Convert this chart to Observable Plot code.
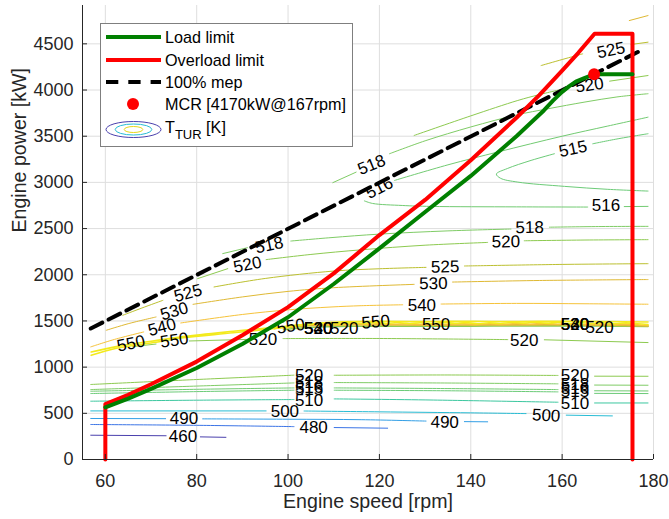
<!DOCTYPE html>
<html><head><meta charset="utf-8">
<script src="https://cdn.jsdelivr.net/npm/d3@7"></script>
<script src="https://cdn.jsdelivr.net/npm/@observablehq/plot@0.6"></script>
<style>body{margin:0;background:#fff;} svg{display:block;}</style>
</head><body><div id="chart"></div>
<script>
const FONT = "'Liberation Sans', Arial, Helvetica, sans-serif";
const xTicks = [60, 80, 100, 120, 140, 160, 180];
const yTicks = [0, 500, 1000, 1500, 2000, 2500, 3000, 3500, 4000, 4500];

// limits [rpm, kW]
const loadLimit = [[60,565],[65,660],[70,765],[80,990],[90,1250],[100,1540],[110,1900],[120,2285],[130,2680],[140,3070],[150,3500],[156,3779],[158,3885],[160,3980],[161.5,4040],[163,4090],[165,4132],[167,4170],[175.4,4170]];
const overloadLimit = [[60,0],[60,600],[65,700],[70,815],[80,1060],[90,1345],[100,1650],[110,2015],[120,2430],[130,2810],[140,3240],[150,3700],[155,3945],[160,4210],[163.5,4400],[167.1,4610],[175.4,4610],[175.4,0]];
const mep100 = [[56.8,1418],[177.7,4440]];
const mcr = [[167,4170]];

// contour levels (K) and colours
const levelDomain = [460, 480, 490, 500, 510, 515, 518, 520, 525, 530, 540, 550];
const levelColors = ["#4a40ad","#3b74e6","#339fe6","#27bcd4","#3cc79f","#6ccb78","#7fcc66","#8dca50","#bcc030","#dfb934","#f6c33a","#f3ea1c"];

const N = [NaN, NaN];
const c460 = [[56.8,263],[73.3,257],N,[80.8,245],[86.4,240]];
const c480 = [[56.8,379],[80,370],[101.3,356],N,[110.1,346],[121.8,339]];
const c490 = [[56.8,444],[73.2,442],N,[81.3,440],[100,436],[116,431],[130.2,416],N,[138.6,410],[143.7,408]];
const c500 = [[56.8,526],[95.2,526],N,[103.5,525],[120,516],[140,505],[152.1,497],N,[160.9,480],[171,472]];
const c510 = [[56.8,631],[80,642],[101.3,649],N,[110.1,656],[130,645],[159.1,620],N,[167.1,612],[178.8,612]];
const c515L = [[56.8,714],[80,735],[101.3,750],N,[110.1,750],[135,744],[159.1,732],N,[167.1,716],[178.8,714]];
const c516L = [[56.8,739],[80,760],[101.3,775],N,[110.1,775],[135,768],[159.1,757],N,[167.1,744],[178.8,742]];
const c518L = [[56.8,757],[80,795],[101.3,829],N,[110.1,833],[135,828],[159.1,819],N,[167.1,806],[178.8,804]];
const c520L = [[56.8,812],[80,866],[101.3,913],N,[110.1,912],[135,915],[159.1,910],N,[167.1,902],[178.8,901]];
const c520m = [[66,1222],[71.1,1250],N,[78.4,1283],[90.8,1300],N,[98.9,1309],[120,1310],[148.1,1298],N,[156.1,1296],[178.8,1266]];
const b550a = [[56.9,1164],[62.4,1222],[70,1280],[77,1330],[88,1388],[99,1440],[105,1470],[112,1490],[120,1496],[130,1494],[140,1496],[150,1493],[160,1497],[170,1494],[178.8,1488]];
const b550b = [[56.9,1128],[62.4,1205],[70,1262],[77,1318],[88,1372],[99,1430],[103,1455],[106,1470],[109,1478],[111.5,1470],[114,1482],[116.5,1473],[119,1485],[121.5,1474],[124,1483],[126.5,1472],[129,1481],[131.5,1473],[134,1484],[136.5,1474],[139,1482],[141.5,1471],[144,1480],[146.5,1473],[149,1484],[151.5,1476],[154,1486],[156.5,1476],[159,1483],[161.5,1474],[164,1482],[166.5,1472],[169,1480],[171.5,1471],[174,1479],[176.5,1470],[178.8,1462]];
const b540 = [[97,1415],[100,1440],[104,1458],[108,1466],[111,1460],[114,1470],[117,1462],[120,1472],[123,1463],[126,1471],[129,1461],[132,1470],[135,1462],[138,1471],[141,1460],[144,1469],[147,1462],[150,1472],[153,1464],[156,1473],[159,1463],[162,1470],[165,1461],[168,1468],[171,1459],[174,1466],[176.5,1457],[178.8,1450]];
const b530 = [[99,1420],[105,1450],[115,1458],[130,1455],[145,1457],[160,1458],[170,1454],[178.8,1446]];
const b520 = [[99,1405],[105,1432],[115,1443],[130,1442],[145,1445],[160,1447],[170,1444],[178.8,1440]];
const c540 = [[56.8,1219],[62,1300],[68.4,1381],N,[76.5,1478],[90,1570],[100,1620],[109.4,1651],[116,1665],[125.1,1675],N,[133.5,1683],[150,1690],[165,1686],[178.8,1681]];
const c530 = [[60.2,1399],[65,1470],[71.1,1543],N,[79.2,1680],[90,1760],[100,1820],[110,1860],[127.6,1896],N,[136,1921],[155,1938],[178.8,1948]];
const c525 = [[63.8,1561],[68,1640],[72.6,1723],N,[83.8,1868],[95,1960],[110,2040],[120,2065],[130.2,2080],N,[138.6,2095],[160,2112],[178.8,2120]];
const c520u = [[80.2,1958],[86.8,2066],N,[95.2,2164],[105,2220],[116,2270],[130,2320],[143.7,2350],N,[151.7,2368],[165,2376],[178.8,2380]];
const c518m = [[85.7,2229],[91.1,2293],N,[100.6,2365],[109.4,2402],[120,2440],[135,2475],[148.8,2495],N,[157.2,2515],[168,2522],[178.8,2524]];
const c518u = [[109.8,2997],[114.9,3111],N,[122.2,3310],[130,3450],[140,3600],[150,3730],[156.9,3797],[165,3870],[172,3925],[178.8,3960]];
const c516 = [[178.8,3706],[170,3610],[160,3500],[146,3330],[135,3190],[123.3,3021],N,[116.7,2800],[118.5,2772],[125,2750],[131.3,2740],[150,2735],[165.6,2733],N,[173.6,2738],[178.8,2740]];
const c515 = [[178.8,3527],[172,3470],[166.7,3418],N,[158.3,3310],[153.2,3238],[148,3150],[145.6,3090],[146.5,3045],[150.3,3003],[160.5,2957],[170,2925],[178.8,2906]];
const c520t = [[127.6,3508],[140,3720],[150.3,3887],[155,3950],[161,4020],N,[170.4,4096],[178.8,4157]];
const c525t = [[155.4,4265],[160,4330],[164.5,4392],N,[175.1,4493],[178.8,4518]];
const c530t = [[174.7,4752],[178.8,4806]];

const contourSets = [
  [460, c460], [480, c480], [490, c490], [500, c500], [510, c510],
  [515, c515L], [516, c516L], [518, c518L], [520, c520L], [520, c520m],
  [520, b520], [530, b530], [540, b540], [550, b550a], [550, b550b],
  [540, c540], [530, c530], [525, c525], [520, c520u], [518, c518m],
  [518, c518u], [516, c516], [515, c515], [520, c520t], [525, c525t], [530, c530t]
];
const bandIds = new Set([10, 11, 12, 13, 14]);

// contour labels: [rpm, kW, text, rotation]
const contourLabels = [
  [77.0,246,"460",0],[105.6,345,"480",0],[77.2,438,"490",0],[134.3,404,"490",1],
  [99.3,521,"500",0],[156.5,477,"500",3],[104.6,641,"510",0],[162.8,606,"510",0],
  [104.6,752,"515",0],[104.6,782,"516",0],[104.6,828,"518",0],[104.6,904,"520",0],
  [162.8,740,"515",0],[162.8,770,"516",0],[162.8,812,"518",0],[162.8,905,"520",0],
  [94.5,1298,"520",0],[151.7,1290,"520",0],
  [65.6,1255,"550",-12],[75.1,1290,"550",-8],
  [100.6,1442,"550",-8],[106.6,1417,"540",0],[106.6,1417,"530",0],[106.6,1417,"520",0],[112.3,1417,"520",0],
  [119.2,1489,"550",-5],[132.4,1462,"550",0],
  [162.8,1464,"540",0],[162.8,1464,"530",0],[162.8,1464,"520",0],[168.2,1430,"520",0],
  [72.4,1432,"540",-15],[129.3,1672,"540",0],
  [75.1,1605,"530",-16],[131.8,1904,"530",-1],
  [78.1,1800,"525",-15],[134.4,2084,"525",-1],
  [91.1,2108,"520",-12],[147.7,2356,"520",-1],
  [95.9,2320,"518",-12],[152.9,2511,"518",-1],
  [118.3,3190,"518",-22],[120.0,2940,"516",-27],[169.6,2748,"516",0],
  [162.4,3362,"515",-12],[166.0,4052,"520",-8],[170.7,4430,"525",-12]
];

const contourRows = contourSets.flatMap(([level, pts], i) =>
  pts.map(([rpm, kW]) => ({rpm, kW, level, id: i})));
const thinRows = contourRows.filter(d => !bandIds.has(d.id));
const bandRows = contourRows.filter(d => bandIds.has(d.id));
const labelRows = contourLabels.map(([rpm, kW, text, rot]) => ({rpm, kW, text, rot}));

const plot = Plot.plot({
  width: 669, height: 519,
  marginLeft: 82, marginRight: 16, marginTop: 5, marginBottom: 60,
  style: {fontFamily: FONT, fontSize: "18px", background: "#fff", overflow: "visible"},
  x: {domain: [55, 180]},
  y: {domain: [0, 4915]},
  color: {type: "linear", domain: levelDomain, range: levelColors},
  marks: [
    Plot.gridX(xTicks, {stroke: "#dedede", strokeOpacity: 1}),
    Plot.gridY(yTicks, {stroke: "#dedede", strokeOpacity: 1}),
    Plot.line(thinRows, {x: "rpm", y: "kW", z: "id", stroke: "level", strokeWidth: 1, curve: "catmull-rom"}),
    Plot.line(bandRows, {x: "rpm", y: "kW", z: "id", stroke: "level", strokeWidth: 1.6, curve: "catmull-rom"}),
    Plot.text(labelRows, {x: "rpm", y: "kW", text: "text", rotate: "rot", fontSize: 17, fill: "#000"}),
    Plot.line(mep100, {stroke: "#000", strokeWidth: 4, strokeDasharray: "13,7"}),
    Plot.line(overloadLimit, {stroke: "#ff0000", strokeWidth: 4}),
    Plot.line(loadLimit, {stroke: "#008000", strokeWidth: 4}),
    Plot.dot(mcr, {r: 6, fill: "#ff0000", stroke: "none"}),
    Plot.ruleX([55], {stroke: "#262626"}),
    Plot.ruleY([0], {stroke: "#262626"}),
    Plot.tickX(xTicks, {x: d => d, insetTop: 449, stroke: "#262626"}),
    Plot.tickY(yTicks, {y: d => d, insetRight: 566, stroke: "#262626"}),
    Plot.axisX(xTicks, {tickSize: 0, tickPadding: 15, fontSize: 18, fill: "#262626", label: null, tickFormat: d => String(d)}),
    Plot.axisY(yTicks, {tickSize: 0, tickPadding: 9, fontSize: 18, fill: "#262626", label: null, tickFormat: d => String(d)}),
    Plot.text(["Engine speed [rpm]"], {text: d => d, frameAnchor: "bottom", dy: 48, fontSize: 19.6, fill: "#262626"}),
    Plot.text(["Engine power [kW]"], {text: d => d, frameAnchor: "left", dx: -63, rotate: -90, fontSize: 19.6, fill: "#262626"})
  ]
});

// legend
const svg = d3.select(plot);
const lg = svg.append("g").attr("font-family", FONT).attr("font-size", 16.2)
  .attr("fill", "#000").attr("text-anchor", "start");
lg.append("rect").attr("x", 100.5).attr("y", 23.5).attr("width", 252).attr("height", 123)
  .attr("fill", "#fff").attr("stroke", "#7f7f7f").attr("stroke-width", 1);
const legendItems = [
  {y: 37, label: "Load limit", color: "#008000", dash: null},
  {y: 60, label: "Overload limit", color: "#ff0000", dash: null},
  {y: 82, label: "100% mep", color: "#000", dash: "12.3,10"}
];
for (const it of legendItems) {
  lg.append("line").attr("x1", 106).attr("x2", 161).attr("y1", it.y).attr("y2", it.y)
    .attr("stroke", it.color).attr("stroke-width", 4).attr("stroke-dasharray", it.dash);
  lg.append("text").attr("x", 165).attr("y", it.y + 5.8).text(it.label);
}
lg.append("circle").attr("cx", 133).attr("cy", 104).attr("r", 6).attr("fill", "#ff0000");
lg.append("text").attr("x", 165).attr("y", 109.8).text("MCR [4170kW@167rpm]");
[[27.5, 8, "#4a40ad"], [18.3, 5.5, "#27bcd4"], [9.3, 3, "#e6d81c"]].forEach(([rx, ry, c]) => {
  lg.append("ellipse").attr("cx", 133.5).attr("cy", 129.5).attr("rx", rx).attr("ry", ry)
    .attr("fill", "none").attr("stroke", c).attr("stroke-width", 1);
});
const tt = lg.append("text").attr("x", 165).attr("y", 133);
tt.append("tspan").text("T");
tt.append("tspan").attr("font-size", 13).attr("dy", 6).text("TUR");
tt.append("tspan").attr("dy", -6).text(" [K]");

document.getElementById("chart").appendChild(plot);
</script>
</body></html>
